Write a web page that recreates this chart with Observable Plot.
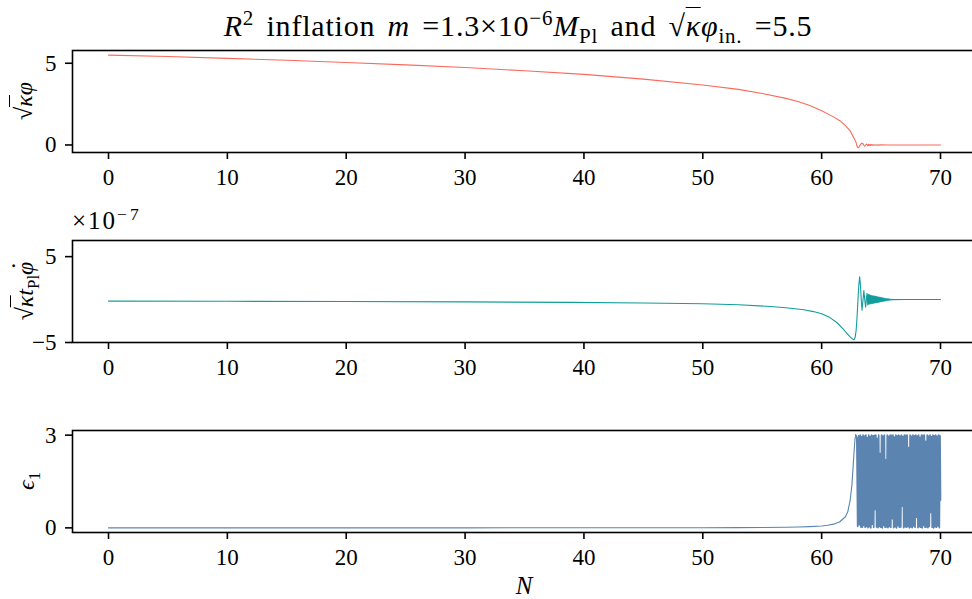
<!DOCTYPE html>
<html><head><meta charset="utf-8">
<script src="https://cdn.jsdelivr.net/npm/d3@7"></script>
<script src="https://cdn.jsdelivr.net/npm/@observablehq/plot@0.6"></script>
<style>
body{margin:0;background:#fff;}
#fig{position:relative;width:972px;height:599px;overflow:hidden;font-family:"Liberation Serif","DejaVu Serif",serif;color:#000;background:#fff;}
#fig svg text{font-family:"Liberation Serif","DejaVu Serif",serif !important;font-size:23px !important;}
.m{font-style:italic;}
.sq{border-top:1.4px solid #000;padding-top:1px;}
sup,sub{font-size:0.7em;line-height:0;}
.ylab{position:absolute;transform:translate(-50%,-50%) rotate(-90deg);white-space:nowrap;font-size:24px;line-height:1.25;padding:2px 0;}
.dot{position:relative;display:inline-block;}
.dot b{position:absolute;left:0.22em;top:-0.5em;font-weight:normal;font-style:normal;}
</style></head><body><div id="fig"></div>
<script>
// ---- data ----
const xTicks = [0, 10, 20, 30, 40, 50, 60, 70];
const phiTicks = [0, 5];
const dphiTicks = [-5, 5];
const epsTicks = [0, 3];

// sqrt(kappa) * phi versus N
const phiData = [[0,5.50],[5,5.41],[10,5.30],[15,5.18],[20,5.05],[25,4.90],[30,4.74],[35,4.54],[40,4.32],[45,4.03],
 [50,3.67],[53,3.40],[55,3.15],[57,2.85],[58,2.66],[59,2.42],[60,2.10],[61,1.72],[61.6,1.45],[62,1.18],
 [62.4,0.86],[62.7,0.45],[62.9,0.15],[62.98,-0.08],[63.05,-0.17],[63.15,-0.12],[63.25,0.02],[63.35,0.10],[63.45,0.10],[63.55,-0.02],
 [63.62,-0.07],[63.7,0.0],[63.77,0.06],[63.83,0.0],[63.88,-0.05],[63.94,0.04],[64.0,-0.04],[64.06,0.035],[64.12,-0.03],[64.18,0.03],
 [64.25,-0.025],[64.32,0.02],[64.4,-0.02],[64.5,0.015],[64.6,-0.015],[64.7,0.01],[64.8,-0.01],[65.0,0.005],[65.5,0],[70,0]];

// sqrt(kappa) t_Pl dphi/dt, in units of 1e-7
const dphiData = [[0,-0.18],[10,-0.20],[20,-0.23],[30,-0.27],[38.85,-0.33],[45,-0.40],[50,-0.49],[53,-0.60],[55.7,-0.80],[57,-0.95],
 [58.5,-1.19],[59.3,-1.40],[60,-1.66],[60.7,-2.10],[61.3,-2.70],[61.8,-3.40],[62.1,-3.90],[62.4,-4.35],[62.6,-4.60],[62.72,-4.68],
 [62.82,-4.40],[62.9,-3.60],[62.97,-2.20],[63.05,-0.20],[63.12,1.60],[63.20,2.65],[63.27,1.60],[63.33,0.10],[63.40,-1.25],[63.47,-0.20],
 [63.55,1.05],[63.62,0.05],[63.70,-0.88],[63.76,0.0],[63.82,0.72],[63.88,-0.62],[63.93,0.60],[63.98,-0.55],[64.03,0.55],[64.08,-0.50],
 [64.13,0.50],[64.18,-0.48],[64.23,0.47],[64.28,-0.45],[64.33,0.44],[64.38,-0.42],[64.43,0.41],[64.48,-0.40],[64.53,0.38],[64.58,-0.37],
 [64.63,0.36],[64.68,-0.35],[64.73,0.33],[64.78,-0.32],[64.83,0.30],[64.88,-0.29],[64.93,0.27],[64.98,-0.26],[65.03,0.24],[65.08,-0.23],
 [65.13,0.21],[65.18,-0.20],[65.23,0.18],[65.28,-0.17],[65.33,0.15],[65.38,-0.14],[65.43,0.12],[65.48,-0.11],[65.53,0.10],[65.58,-0.09],
 [65.63,0.08],[65.68,-0.07],[65.73,0.06],[65.78,-0.05],[65.83,0.04],[65.88,-0.03],[65.93,0.02],[66.0,-0.01],[67,0],[70,0]];

// first slow-roll parameter epsilon_1 versus N
const epsSlow = [[0,0.0002],[10,0.0003],[20,0.0005],[30,0.001],[40,0.002],[45,0.003],[50,0.005],[53,0.008],[55,0.012],[57,0.02],
 [58,0.028],[59,0.04],[60,0.06],[60.5,0.085],[61,0.12],[61.5,0.19],[62,0.36],[62.2,0.52],[62.4,0.9],[62.55,1.4],
 [62.7,2.3],[62.8,2.85],[62.87,3.0]];
const epsOsc = [[62.96,2.9],[63.03,0.05],[63.10,2.98],[63.17,0.1],[63.24,3.0],[63.30,0.03],[63.36,2.95],
 [63.42,0.02],[63.48,3.0],[63.54,0.08],
 [63.60,2.97],[63.66,0.02],[63.72,3.0],[63.78,0.05],[63.84,2.92],[63.90,0.01],[63.96,3.0],[64.02,0.04],[64.08,2.95],[64.14,0.0],
 [64.20,3.0],[64.26,0.12],[64.32,2.98],[64.38,0.02],[64.44,2.99],[64.50,0.6],[64.56,3.0],[64.62,0.03],[64.68,2.9],[64.74,0.01],
 [64.80,3.0],[64.86,0.05],[64.92,2.4],[64.98,0.02],[65.04,3.0],[65.10,0.0],[65.16,2.97],[65.22,0.08],[65.28,3.0],[65.34,0.02],
 [65.40,2.2],[65.46,0.03],[65.52,3.0],[65.58,0.01],[65.64,2.96],[65.70,0.05],[65.76,3.0],[65.82,0.02],[65.88,2.99],[65.94,0.3],
 [66.00,3.0],[66.06,0.01],[66.12,2.94],[66.18,0.04],[66.24,3.0],[66.30,0.0],[66.36,2.98],[66.42,0.07],[66.48,3.0],[66.54,0.02],
 [66.60,2.97],[66.66,0.03],[66.72,3.0],[66.78,0.7],[66.84,2.95],[66.90,0.01],[66.96,3.0],[67.02,0.04],[67.08,2.99],[67.14,0.02],
 [67.20,3.0],[67.26,0.05],[67.32,2.6],[67.38,0.0],[67.44,3.0],[67.50,0.03],[67.56,2.96],[67.62,0.01],[67.68,3.0],[67.74,0.06],
 [67.80,2.98],[67.86,0.02],[67.92,3.0],[67.98,0.35],[68.04,2.97],[68.10,0.01],[68.16,3.0],[68.22,0.04],[68.28,2.93],[68.34,0.02],
 [68.40,3.0],[68.46,0.0],[68.52,2.99],[68.58,0.08],[68.64,3.0],[68.70,0.02],[68.76,2.8],[68.82,0.03],[68.88,3.0],[68.94,0.01],
 [69.00,2.97],[69.06,0.05],[69.12,3.0],[69.18,0.5],[69.24,2.95],[69.30,0.02],[69.36,3.0],[69.42,0.0],[69.48,2.98],[69.54,0.04],
 [69.60,3.0],[69.66,0.02],[69.72,2.96],[69.78,0.06],[69.84,3.0],[69.90,0.01],[69.96,2.98],[70.00,0.9]];

// ---- drawing ----
const FONT = '"Liberation Serif","DejaVu Serif",serif';
const fig = document.getElementById("fig");
const X_DOMAIN = [-3.03, 72.86];
const fmt = d3.format("d");

function panel(lines, yDomain, yTicks, top) {
  const svg = Plot.plot({
    width: 972, height: 152,
    marginLeft: 72, marginRight: -2, marginTop: 10, marginBottom: 40,
    style: {fontFamily: FONT, fontSize: "23px", background: "none", overflow: "visible", color: "#000"},
    x: {domain: X_DOMAIN},
    y: {domain: yDomain},
    marks: [
      ...lines.map(([data, color, w]) => Plot.line(data, {x: d => d[0], y: d => d[1], stroke: color, strokeWidth: w})),
      Plot.frame({stroke: "#000", strokeWidth: 1.6}),
      Plot.axisX({ticks: xTicks, tickFormat: fmt, tickSize: 7, tickPadding: 9, strokeWidth: 1.6, label: null}),
      Plot.axisY({ticks: yTicks, tickFormat: fmt, tickSize: 7, tickPadding: 9, strokeWidth: 1.6, label: null})
    ]
  });
  svg.style.position = "absolute";
  svg.style.left = "0px";
  svg.style.top = (top - 10) + "px";
  fig.appendChild(svg);
}

panel([[phiData, "#fa6a5c", 1.1]], [-0.46, 5.78], phiTicks, 50);
panel([[dphiData, "#129d9d", 1.1]], [-5, 6.88], dphiTicks, 240);
panel([[epsSlow, "#5b84b1", 1.1], [[epsSlow[epsSlow.length - 1], ...epsOsc], "#5b84b1", 1.7]], [-0.15, 3.15], epsTicks, 430);

function addHTML(html, css) {
  const d = document.createElement("div");
  d.innerHTML = html;
  d.style.position = "absolute";
  Object.assign(d.style, css);
  fig.appendChild(d);
  return d;
}
// title
addHTML('<span class="m">R</span><sup>2</sup> inflation <span class="m">m</span> =1.3×10<sup>−6</sup><span class="m">M</span><sub>Pl</sub> and √<span class="sq"><span class="m">κ</span></span><span class="m">φ</span><sub>in.</sub> =5.5',
  {left: "518px", top: "9px", transform: "translateX(-50%)", fontSize: "30px", letterSpacing: "0.8px", wordSpacing: "4px", whiteSpace: "nowrap"});
// offset text
addHTML('×10<sup style="letter-spacing:3px">−7</sup>', {left: "72px", top: "207px", fontSize: "25px", letterSpacing: "2px", whiteSpace: "nowrap"});
// x label
addHTML('<span class="m">N</span>', {left: "524px", top: "572px", transform: "translateX(-50%)", fontSize: "25px"});
// y labels
const yl = [
  ['√<span class="sq"><span class="m">κ</span></span><span class="m">φ</span>', 24, 101],
  ['√<span class="sq"><span class="m">κ</span></span><span class="m">t</span><sub>Pl</sub><span class="m dot">φ<b>·</b></span>', 25, 291],
  ['<span class="m">ϵ</span><sub>1</sub>', 26, 481]
];
for (const [h, x, y] of yl) {
  const d = document.createElement("div");
  d.className = "ylab";
  d.innerHTML = h;
  d.style.left = x + "px";
  d.style.top = y + "px";
  fig.appendChild(d);
}
</script>
</body></html>
